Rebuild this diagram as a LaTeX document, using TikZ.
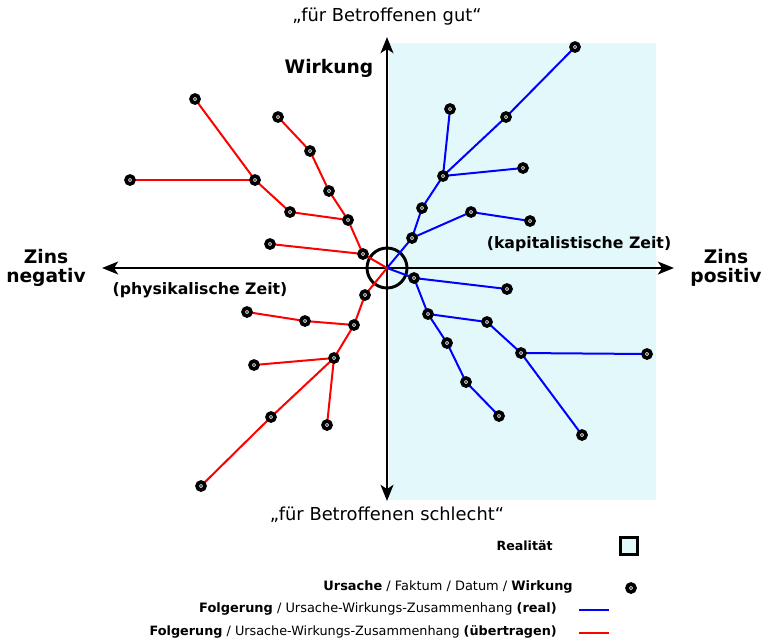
\documentclass[tikz,border=0pt]{standalone}
\usepackage{fontspec}
\setmainfont{DejaVu Sans}
\usetikzlibrary{arrows.meta}
\definecolor{realbg}{HTML}{E3F8FB}
\tikzset{
  dotnode/.style={circle,draw=black,line width=2.8pt,fill=white,inner sep=0pt,minimum size=5.9pt,
    path picture={\fill[black!80] (path picture bounding box.center) circle (0.8pt);}},
  bl/.style={draw=blue,line width=1.5pt},
  rl/.style={draw=red,line width=1.5pt},
  axis/.style={line width=2.2pt,-{Stealth[length=12pt,width=9.5pt,inset=3pt]}},
  biglabel/.style={font=\fontsize{13.4}{15}\selectfont,align=center},
  bigbold/.style={font=\fontsize{14}{14.5}\selectfont\bfseries,align=center},
  zeit/.style={font=\fontsize{11.8}{13}\selectfont\bfseries},
  leg/.style={font=\fontsize{9.7}{11}\selectfont,anchor=east,inner sep=0pt},
}
\begin{document}
\begin{tikzpicture}[x=0.75pt,y=-0.75pt]
\useasboundingbox (0,0) rectangle (762,643);
% reality area
\fill[realbg] (389,43) rectangle (656,500);
% axes
\coordinate (O) at (387,268);
\coordinate (top) at (387,37);
\coordinate (bot) at (387,501);
\coordinate (lft) at (102,268);
\coordinate (rgt) at (674,268);
\draw[axis] (O) -- (top);
\draw[axis] (O) -- (bot);
\draw[axis] (O) -- (lft);
\draw[axis] (O) -- (rgt);
\node[circle,draw=black,line width=2.2pt,minimum size=30pt,inner sep=0pt] (ring) at (O) {};
% labels
\node[biglabel] (gut) at (387,17) {„für Betroffenen gut“};
\node[biglabel] (schlecht) at (387,515) {„für Betroffenen schlecht“};
\node[bigbold] (wirk) at (329,68) {Wirkung};
\node[bigbold] (neg) at (46,268) {Zins\\negativ};
\node[bigbold] (pos) at (726,268) {Zins\\positiv};
\node[zeit] (phys) at (200,290) {(physikalische Zeit)};
\node[zeit] (kap) at (579,244) {(kapitalistische Zeit)};
% points
\foreach \n/\x/\y in {b1/412/238,b2/422/208,b3/443/176,b4/506/117,b5/575/47,b6/450/109,b7/523/168,b8/471/212,b9/530/221,
  c1/414/278,c2/507/289,c3/428/314,c4/487/322,c5/521/353,c6/647/354,c7/582/435,c8/447/343,c9/466/382,c10/499/416,
  r1/363/254,r2/270/244,r3/348/220,r4/329/191,r5/310/151,r6/278/117,r7/290/212,r8/255/180,r9/195/99,r10/130/180,
  s1/365/295,s2/354/325,s3/305/321,s4/247/312,s5/334/358,s6/254/365,s7/327/425,s8/271/417,s9/201/486}
  {\coordinate (\n) at (\x,\y);}
% blue lines
\draw[bl] (O) -- (b1) -- (b2) -- (b3) -- (b4) -- (b5);
\draw[bl] (b3) -- (b6);
\draw[bl] (b3) -- (b7);
\draw[bl] (b1) -- (b8) -- (b9);
\draw[bl] (O) -- (c1) -- (c2);
\draw[bl] (c1) -- (c3) -- (c4) -- (c5) -- (c6);
\draw[bl] (c5) -- (c7);
\draw[bl] (c3) -- (c8) -- (c9) -- (c10);
% red lines
\draw[rl] (O) -- (r1) -- (r2);
\draw[rl] (r1) -- (r3) -- (r4) -- (r5) -- (r6);
\draw[rl] (r3) -- (r7) -- (r8) -- (r9);
\draw[rl] (r8) -- (r10);
\draw[rl] (O) -- (s1) -- (s2) -- (s5) -- (s8) -- (s9);
\draw[rl] (s2) -- (s3) -- (s4);
\draw[rl] (s5) -- (s6);
\draw[rl] (s5) -- (s7);
% dots
\foreach \n in {b1,b2,b3,b4,b5,b6,b7,b8,b9,c1,c2,c3,c4,c5,c6,c7,c8,c9,c10,r1,r2,r3,r4,r5,r6,r7,r8,r9,r10,s1,s2,s3,s4,s5,s6,s7,s8,s9}
  {\node[dotnode] (d\n) at (\n) {};}
% legend
\node[leg,font=\fontsize{9.5}{11}\selectfont\bfseries] (lreal) at (553,546) {Realität};
\node[draw=black,line width=2pt,fill=realbg,minimum size=12.5pt,inner sep=0pt] (lbox) at (629,546) {};
\node[leg] (lurs) at (573,587) {\textbf{Ursache} / Faktum / Datum / \textbf{Wirkung}};
\node[dotnode] (ldot) at (631,588) {};
\node[leg] (lreal2) at (557,609) {\textbf{Folgerung} / Ursache-Wirkungs-Zusammenhang \textbf{(real)}};
\coordinate (lb1) at (579,610);
\coordinate (lb2) at (609,610);
\draw[bl] (lb1) -- (lb2);
\node[leg,font=\fontsize{9.6}{11}\selectfont] (luebt) at (557,632) {\textbf{Folgerung} / Ursache-Wirkungs-Zusammenhang \textbf{(übertragen)}};
\coordinate (lr1) at (579,633);
\coordinate (lr2) at (609,633);
\draw[rl] (lr1) -- (lr2);
\end{tikzpicture}
\end{document}
